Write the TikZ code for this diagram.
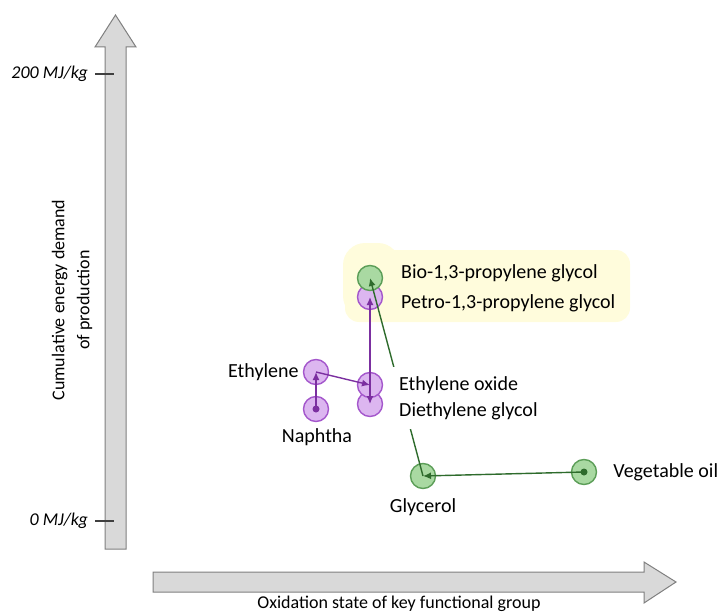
\documentclass[tikz,border=0pt]{standalone}
\usepackage{fontspec}
\setmainfont{Carlito}
\usepackage{tikz}
\usetikzlibrary{
    positioning,
    arrows.meta,
    calc,
}
\definecolor{axisFill}{HTML}{D9D9D9}
\definecolor{axisEdge}{HTML}{7F7F7F}
\definecolor{petroFill}{HTML}{DCB6F0}
\definecolor{petroEdge}{HTML}{A457CC}
\definecolor{petroLine}{HTML}{7B2FA0}
\definecolor{bioFill}{HTML}{A9D9A2}
\definecolor{bioEdge}{HTML}{5C9E58}
\definecolor{bioLine}{HTML}{2E6B2C}
\definecolor{glow}{HTML}{FFFCDC}

\begin{document}
\begin{tikzpicture}[
    x=1pt, y=-1pt,
    font=\fontsize{20}{26}\selectfont,
    axis/.style={fill=axisFill, draw=axisEdge, line width=1pt},
    tick/.style={draw=black!75, line width=1.3pt},
    ticklabel/.style={anchor=east, inner sep=0pt, font=\fontsize{18}{22}\selectfont\itshape},
    axislabel/.style={align=center, inner sep=0pt, font=\fontsize{18}{25}\selectfont},
    petro/.style={circle, draw=petroEdge, fill=petroFill, line width=1.4pt, minimum size=25pt, inner sep=0pt},
    bio/.style={circle, draw=bioEdge, fill=bioFill, line width=1.4pt, minimum size=25pt, inner sep=0pt},
    petroflow/.style={draw=petroLine, line width=1.4pt, -{Latex[length=8pt,width=7pt]}},
    bioflow/.style={draw=bioLine, line width=1.4pt, -{Latex[length=8pt,width=7pt]}},
    chem/.style={inner sep=0pt, text height=14pt, text depth=4pt}
]
\useasboundingbox (0,0) rectangle (726,615);

\fill[glow, rounded corners=14pt] (345,250) rectangle (630,322);
\fill[glow, rounded corners=22pt] (343,243) rectangle (400,318);

\draw[axis] (105,549) -- (105,47) -- (95,47) -- (115.5,15) -- (136,47) -- (126,47) -- (126,549) -- cycle;
\draw[axis] (153,572) -- (644,572) -- (644,562) -- (676,582) -- (644,603) -- (644,592) -- (153,592) -- cycle;

\node[ticklabel] (highCED) at (88,74) {200 MJ/kg};
\node[ticklabel] (zeroCED) at (88,521) {0 MJ/kg};
\draw[tick] (95,74) -- (114,74);
\draw[tick] (95,521) -- (114,521);

\node[axislabel, rotate=90] (cedLabel) at (72,300) {Cumulative energy demand\\of production};
\node[axislabel] (oxLabel) at (399,604) {Oxidation state of key functional group};

\node[petro] (petroPDO) at (370,297) {};
\node[bio] (bioPDO) at (370,278) {};
\node[petro] (ethylene) at (316,372) {};
\node[petro] (naphtha) at (316,409) {};
\node[petro] (diethyleneGlycol) at (370,404) {};
\node[petro] (ethyleneOxide) at (370,385) {};
\node[bio] (glycerol) at (423,476) {};
\node[bio] (vegOil) at (584,472) {};
\fill[petroLine] (naphtha) circle (3.5pt);
\fill[bioLine] (vegOil) circle (3.5pt);

\draw[petroflow] (naphtha.center) -- (ethylene.center);
\draw[petroflow] (ethylene.center) -- (ethyleneOxide.center);
\draw[petroflow] (ethyleneOxide.center) -- (petroPDO.center);
\draw[petroflow] (ethyleneOxide.center) -- (diethyleneGlycol.center);
\draw[bioflow] (vegOil.center) -- (glycerol.center);
\draw[bioflow] (glycerol.center) -- (bioPDO.center);

\node[chem, anchor=west] (bioText) at (401,273) {Bio-1,3-propylene glycol};
\node[chem, anchor=west] (petroText) at (401,303) {Petro-1,3-propylene glycol};
\node[chem, left=4pt of ethylene] (ethyleneText) {Ethylene};
\node[chem] (naphthaText) at (317,437) {Naphtha};
\node[fill=white, align=left, anchor=west, inner xsep=7pt, inner ysep=9pt] (eoText) at (392,398)
    {Ethylene oxide\\Diethylene glycol};
\node[chem] (glycerolText) at (423,507) {Glycerol};
\node[chem, right=16pt of vegOil] (vegOilText) {Vegetable oil};

\end{tikzpicture}
\end{document}
